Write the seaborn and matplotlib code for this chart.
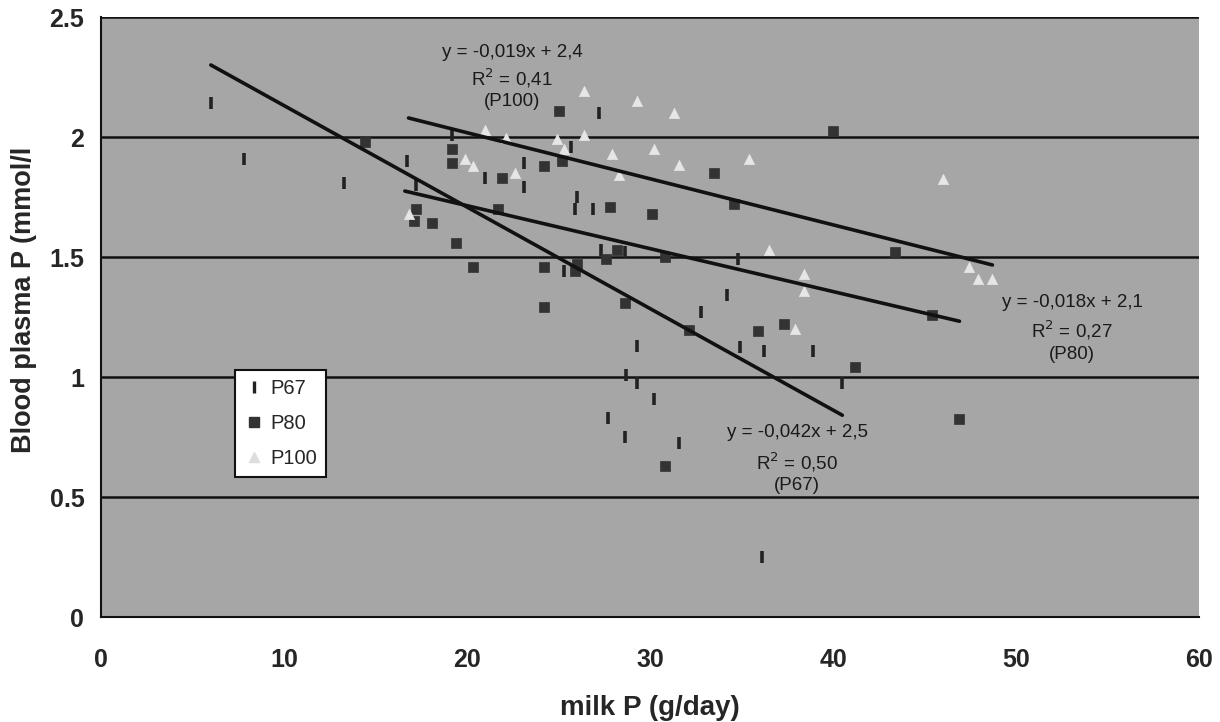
import matplotlib
matplotlib.use("Agg")
import matplotlib.pyplot as plt
from matplotlib.lines import Line2D
import numpy as np
import pandas as pd
import seaborn as sns

# Milk P output (g/day) vs blood plasma P (mmol/l) for three P-supply groups
p67_x = [6.0, 7.8, 13.3, 16.7, 17.2, 19.2, 21.0, 23.1, 23.1, 25.7, 27.2, 26.0, 25.9,
         26.9, 27.3, 28.6, 25.3, 29.3, 28.7, 29.3, 30.2, 27.7, 28.6, 31.6, 34.8, 34.2,
         32.8, 34.9, 36.2, 38.9, 40.5, 36.1]
p67_y = [2.14, 1.91, 1.81, 1.90, 1.80, 2.01, 1.83, 1.89, 1.79, 1.96, 2.10, 1.75, 1.70,
         1.70, 1.53, 1.52, 1.44, 1.13, 1.01, 0.975, 0.91, 0.83, 0.75, 0.725, 1.49, 1.34,
         1.27, 1.125, 1.11, 1.11, 0.975, 0.25]

p80_x = [14.4, 25.0, 19.2, 19.2, 24.2, 25.2, 21.9, 27.8, 30.1, 21.7, 17.2, 17.1, 18.1,
         19.4, 27.6, 28.2, 30.8, 20.3, 24.2, 25.9, 26.0, 28.6, 24.2, 30.8, 40.0, 33.5,
         34.6, 43.4, 45.4, 32.1, 35.9, 37.3, 41.2, 46.9]
p80_y = [1.98, 2.11, 1.95, 1.89, 1.88, 1.90, 1.83, 1.71, 1.68, 1.70, 1.70, 1.65, 1.64,
         1.56, 1.49, 1.53, 1.50, 1.46, 1.46, 1.44, 1.47, 1.31, 1.29, 0.63, 2.025, 1.85,
         1.72, 1.52, 1.26, 1.195, 1.19, 1.22, 1.04, 0.825]

p100_x = [26.4, 29.3, 31.3, 21.0, 24.9, 26.4, 22.1, 25.3, 27.9, 30.2, 19.9, 20.3, 22.6,
          31.6, 28.3, 16.8, 35.4, 46.0, 36.5, 47.4, 47.9, 48.7, 38.4, 38.4, 37.9]
p100_y = [2.19, 2.15, 2.10, 2.03, 1.99, 2.01, 1.995, 1.95, 1.93, 1.95, 1.91, 1.88, 1.85,
          1.885, 1.84, 1.68, 1.91, 1.825, 1.53, 1.46, 1.41, 1.41, 1.43, 1.36, 1.20]

groups = ["P67", "P80", "P100"]

# Linear trend lines: slope, intercept, x-range
trend_slope = {"P67": -0.0423, "P80": -0.0179, "P100": -0.0192}
trend_icpt = {"P67": 2.554, "P80": 2.072, "P100": 2.402}
trend_xmin = {"P67": 6.0, "P80": 16.6, "P100": 16.8}
trend_xmax = {"P67": 40.5, "P80": 46.9, "P100": 48.7}
trend_lines = {
    "P100": ["y = -0,019x + 2,4", "R$^2$ = 0,41", "(P100)"],
    "P80": ["y = -0,018x + 2,1", "R$^2$ = 0,27", "(P80)"],
    "P67": ["y = -0,042x + 2,5", "R$^2$ = 0,50", "(P67)"],
}
text_x = {"P100": 22.46, "P80": 53.06, "P67": 38.03}
text_y = {"P100": [2.354, 2.246, 2.146], "P80": [1.3125, 1.196, 1.092],
          "P67": [0.767, 0.646, 0.55]}

x_ticks = [0, 10, 20, 30, 40, 50, 60]
y_ticks = [0, 0.5, 1, 1.5, 2, 2.5]

df = pd.concat([
    pd.DataFrame({"milk": p67_x, "plasma": p67_y, "group": "P67"}),
    pd.DataFrame({"milk": p80_x, "plasma": p80_y, "group": "P80"}),
    pd.DataFrame({"milk": p100_x, "plasma": p100_y, "group": "P100"}),
], ignore_index=True)

sns.set_style("white")
plt.rcParams["font.family"] = ["Liberation Sans", "DejaVu Sans"]

fig = plt.figure(figsize=(12.2, 7.22), dpi=100)
ax = fig.add_axes([0.0828, 0.1454, 0.9002, 0.831])
ax.set_facecolor("#a6a6a6")

# horizontal gridlines
for yv in y_ticks[1:]:
    ax.axhline(yv, color="#111111", lw=1.8, zorder=1)

styles = {
    "P67": dict(marker="|", s=70, color="#222222", linewidth=2.6),
    "P80": dict(marker="s", s=60, color="#333333", edgecolor="#333333", linewidth=0.5),
    "P100": dict(marker="^", s=55, color="#e6e6e6", edgecolor="#e6e6e6", linewidth=0.5),
}
for g in groups:
    sub = df[df["group"] == g]
    sns.scatterplot(data=sub, x="milk", y="plasma", ax=ax, zorder=3, legend=False, **styles[g])

for g in groups:
    xs = np.array([trend_xmin[g], trend_xmax[g]])
    ys = trend_slope[g] * xs + trend_icpt[g]
    sns.lineplot(x=xs, y=ys, ax=ax, color="#111111", lw=2.6, zorder=4, legend=False)
    for line, ty in zip(trend_lines[g], text_y[g]):
        ax.text(text_x[g], ty, line, ha="center", va="center", fontsize=13.5,
                color="#1a1a1a", zorder=5)

ax.set_xlim(0, 60)
ax.set_ylim(0, 2.5)
ax.set_xticks(x_ticks)
ax.set_yticks(y_ticks)
ax.set_xticklabels([str(v) for v in x_ticks])
ax.set_yticklabels([f"{v:g}" for v in y_ticks])
for lab in ax.get_xticklabels() + ax.get_yticklabels():
    lab.set_fontweight("bold")
    lab.set_fontsize(18)
ax.tick_params(axis="both", direction="out", length=7, width=1.3, color="#111111")
ax.tick_params(axis="y", pad=5)
ax.tick_params(axis="x", pad=15)

for side in ["top", "right"]:
    ax.spines[side].set_visible(False)
for side in ["left", "bottom"]:
    ax.spines[side].set_color("#111111")
    ax.spines[side].set_linewidth(1.5)

ax.set_xlabel("milk P (g/day)", fontsize=20, fontweight="bold", labelpad=17)
ax.set_ylabel("Blood plasma P (mmol/l", fontsize=19.5, fontweight="bold")
ax.yaxis.set_label_coords(-0.058, 0.528)

handles = [
    Line2D([], [], ls="none", marker="|", markersize=8, markeredgewidth=2.4, color="#222222"),
    Line2D([], [], ls="none", marker="s", markersize=7, color="#333333"),
    Line2D([], [], ls="none", marker="^", markersize=7, color="#dddddd"),
]
leg = ax.legend(handles, groups, loc="upper left", bbox_to_anchor=(0.122, 0.412),
                fontsize=14.5, frameon=True, fancybox=False, edgecolor="#111111",
                framealpha=1, handletextpad=0.3, handlelength=1.0, borderpad=0.45,
                labelspacing=0.8, borderaxespad=0)
leg.get_frame().set_linewidth(1.5)
leg.set_zorder(6)

fig.savefig("out.png", dpi=100, facecolor="white")
